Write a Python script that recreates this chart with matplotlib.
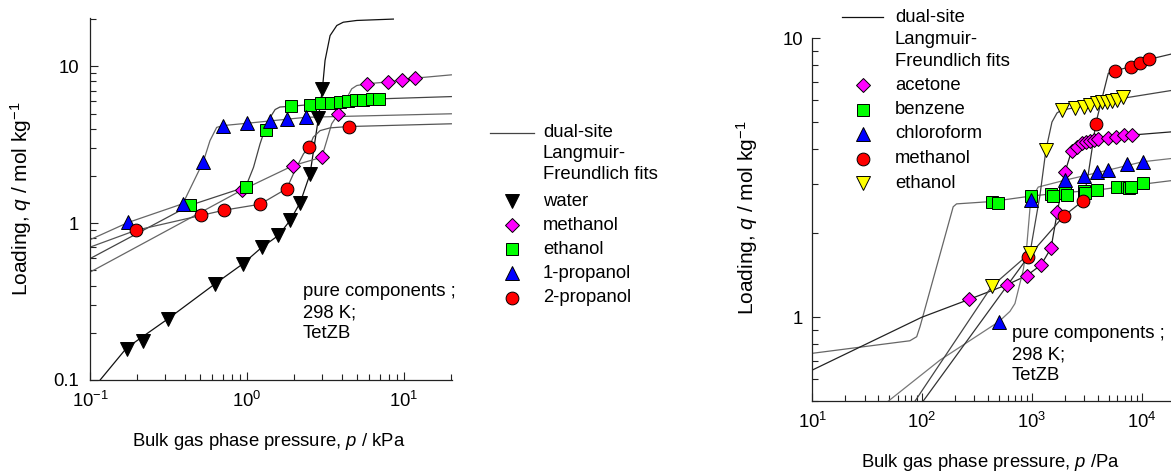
import numpy as np
import matplotlib
matplotlib.use("Agg")
import matplotlib.pyplot as plt
from matplotlib.lines import Line2D
from matplotlib.ticker import NullFormatter

plt.rcParams['font.family'] = ['Liberation Sans', 'DejaVu Sans']
plt.rcParams['mathtext.fontset'] = 'custom'
plt.rcParams['mathtext.rm'] = 'Liberation Sans'
plt.rcParams['mathtext.it'] = 'Liberation Sans:italic'
FS = 13.3
plt.rcParams['font.size'] = FS

# ---------------- left panel: alcohols + water, p in kPa ----------------
water_p = [0.171, 0.219, 0.313, 0.625, 0.94, 1.24, 1.585, 1.88, 2.18, 2.52, 2.85, 3.02]
water_q = [0.158, 0.176, 0.246, 0.411, 0.551, 0.703, 0.835, 1.04, 1.35, 2.06, 4.69, 7.18]
water_fit_p = [0.116, 0.171, 0.313, 0.625, 0.94, 1.24, 1.585, 1.88, 2.18, 2.52, 2.85, 3.02,
               3.14, 3.38, 3.73, 4.1, 5.0, 8.55]
water_fit_q = [0.1, 0.16, 0.245, 0.41, 0.55, 0.70, 0.835, 1.04, 1.35, 2.06, 4.69, 7.18,
               10.9, 15.7, 18.2, 19.1, 19.6, 20.0]

meoh_p = [0.933, 1.97, 2.99, 3.82, 5.78, 7.87, 9.66, 11.7]
meoh_q = [1.63, 2.33, 2.63, 4.98, 7.73, 7.91, 8.23, 8.44]
meoh_fit_p = [0.1, 0.933, 1.97, 2.99, 3.22, 3.46, 3.82, 4.64, 5.0, 5.78, 7.87, 11.7, 20]
meoh_fit_q = [0.487, 1.63, 2.33, 2.63, 3.36, 4.3, 4.98, 7.18, 7.54, 7.73, 7.95, 8.4, 8.82]

etoh_p = [0.434, 0.98, 1.33, 1.9, 2.52, 2.94, 3.43, 3.91, 4.42, 4.94, 5.5, 6.23, 6.96]
etoh_q = [1.30, 1.70, 3.94, 5.56, 5.70, 5.81, 5.81, 5.96, 6.05, 6.11, 6.14, 6.17, 6.2]
etoh_fit_p = [0.1, 0.434, 0.98, 1.1, 1.21, 1.27, 1.33, 1.4, 1.51, 1.62, 1.9, 2.52, 4.42, 6.96, 20]
etoh_fit_q = [0.594, 1.30, 1.70, 2.27, 3.2, 3.7, 3.94, 4.7, 5.3, 5.5, 5.56, 5.70, 6.05, 6.2, 6.41]

prop1_p = [0.175, 0.39, 0.527, 0.706, 0.995, 1.4, 1.79, 2.37]
prop1_q = [1.01, 1.33, 2.47, 4.19, 4.33, 4.51, 4.62, 4.73]
prop1_fit_p = [0.1, 0.175, 0.39, 0.527, 0.581, 0.641, 0.706, 0.995, 2.37, 20]
prop1_fit_q = [0.784, 1.01, 1.33, 2.47, 3.36, 4.08, 4.19, 4.33, 4.73, 4.98]

prop2_p = [0.196, 0.509, 0.715, 1.21, 1.79, 2.49, 4.45]
prop2_q = [0.9, 1.12, 1.21, 1.32, 1.66, 3.05, 4.13]
prop2_fit_p = [0.1, 0.196, 0.509, 0.715, 1.21, 1.79, 2.02, 2.29, 2.49, 2.64, 2.92, 3.38, 4.45, 20]
prop2_fit_q = [0.703, 0.9, 1.12, 1.21, 1.32, 1.66, 2.17, 2.77, 3.05, 3.53, 3.89, 4.05, 4.13, 4.3]

# ---------------- right panel: p in Pa ----------------
acet_p = [269, 597, 897, 1211, 1494, 1703, 2000, 2301, 2558, 2841, 3110, 3380, 3700, 4025,
          4900, 5830, 6950, 8110]
acet_q = [1.16, 1.31, 1.41, 1.54, 1.77, 2.38, 3.31, 3.95, 4.09, 4.2, 4.26, 4.29, 4.32, 4.35,
          4.38, 4.44, 4.5, 4.5]
acet_fit_p = [10, 99, 269, 597, 897, 1211, 1494, 1703, 2000, 2301, 2841, 4025, 8110, 20000]
acet_fit_q = [0.647, 1.0, 1.16, 1.31, 1.41, 1.54, 1.77, 2.38, 3.31, 3.95, 4.2, 4.35, 4.5, 4.63]

benz_p = [430, 494, 981, 1493, 1550, 2004, 2080, 2953, 3070, 3945, 5920, 7300, 7600, 7990, 10200]
benz_q = [2.6, 2.57, 2.72, 2.77, 2.72, 2.80, 2.75, 2.83, 2.79, 2.86, 2.92, 2.94, 2.90, 2.93, 3.04]
benz_fit_p = [10, 77.4, 89.3, 95.7, 192, 206, 430, 981, 2004, 3945, 10200, 20000]
benz_fit_q = [0.743, 0.824, 0.852, 0.925, 2.49, 2.55, 2.6, 2.72, 2.80, 2.86, 3.0, 3.1]

chcl3_p = [501, 975, 2000, 2980, 3940, 4970, 7290, 10200]
chcl3_q = [0.965, 2.63, 3.1, 3.21, 3.31, 3.37, 3.53, 3.61]
chcl3_fit_p = [49, 146, 501, 631, 701, 751, 835, 897, 975, 1143, 2000, 4970, 10200, 20000]
chcl3_fit_q = [0.5, 0.703, 0.965, 1.05, 1.12, 1.25, 1.48, 1.79, 2.63, 2.93, 3.1, 3.37, 3.61, 3.72]

meoh2_p = [927, 1959, 2940, 3811, 5714, 7940, 9640, 11720]
meoh2_q = [1.65, 2.31, 2.62, 4.93, 7.65, 7.91, 8.18, 8.41]
meoh2_fit_p = [102, 927, 1959, 2940, 3270, 3634, 3811, 4470, 4966, 5714, 7940, 11720, 20000]
meoh2_fit_q = [0.5, 1.65, 2.31, 2.62, 3.28, 4.32, 4.93, 6.35, 7.49, 7.65, 7.91, 8.41, 8.84]

etoh2_p = [430, 961, 1343, 1866, 2470, 2985, 3385, 3890, 4320, 4800, 5330, 5920, 6800]
etoh2_q = [1.29, 1.70, 3.98, 5.53, 5.61, 5.69, 5.77, 5.85, 5.9, 5.93, 5.96, 6.01, 6.15]
etoh2_fit_p = [86, 430, 961, 1185, 1343, 1524, 1694, 1866, 3385, 6800, 20000]
etoh2_fit_q = [0.5, 1.29, 1.70, 2.74, 3.98, 5.01, 5.40, 5.53, 5.77, 6.1, 6.53]

W, H = 1171, 471
fig = plt.figure(figsize=(W / 100, H / 100), dpi=100)


def box(x0, y0, x1, y1):
    return [x0 / W, 1 - y1 / H, (x1 - x0) / W, (y1 - y0) / H]


def fx(x):
    return x / W


def fy(y):
    return 1 - y / H


mk = dict(markeredgecolor='black', markeredgewidth=0.7, linestyle='none', zorder=3)
sty = {
    'v': dict(marker='v', markersize=9.5),
    'D': dict(marker='D', markersize=7.6),
    's': dict(marker='s', markersize=8.2),
    '^': dict(marker='^', markersize=9.5),
    'o': dict(marker='o', markersize=9.2),
}
lw = 0.9


def style_axis(ax, ypad):
    ax.set_xscale('log')
    ax.set_yscale('log')
    for s in ('top', 'right'):
        ax.spines[s].set_visible(False)
    for s in ('bottom', 'left'):
        ax.spines[s].set_linewidth(0.9)
        ax.spines[s].set_color('#222222')
    ax.tick_params(which='both', direction='in', top=False, right=False, width=0.8,
                   color='#222222', labelsize=FS)
    ax.tick_params(which='major', length=6)
    ax.tick_params(which='minor', length=4)
    ax.tick_params(axis='x', which='major', pad=7.5)
    ax.tick_params(axis='y', which='major', pad=ypad)
    ax.xaxis.set_minor_formatter(NullFormatter())
    ax.yaxis.set_minor_formatter(NullFormatter())


# left panel
axL = fig.add_axes(box(90, 18.4, 452, 380))
style_axis(axL, 8)
axL.plot(water_fit_p, water_fit_q, color='#111111', lw=lw)
axL.plot(meoh_fit_p, meoh_fit_q, color='#666666', lw=lw)
axL.plot(etoh_fit_p, etoh_fit_q, color='#444444', lw=lw)
axL.plot(prop1_fit_p, prop1_fit_q, color='#666666', lw=lw)
axL.plot(prop2_fit_p, prop2_fit_q, color='#555555', lw=lw)
axL.plot(water_p, water_q, markerfacecolor='black', **sty['v'], **mk)
axL.plot(meoh_p, meoh_q, markerfacecolor='#ff00ff', **sty['D'], **mk)
axL.plot(etoh_p, etoh_q, markerfacecolor='#00ff00', **sty['s'], **mk)
axL.plot(prop1_p, prop1_q, markerfacecolor='#0000ff', **sty['^'], **mk)
axL.plot(prop2_p, prop2_q, markerfacecolor='#ff0000', **sty['o'], **mk)
axL.set_xlim(0.1, 20.2)
axL.set_ylim(0.1, 20.2)
axL.set_yticks([0.1, 1, 10], ['0.1', '1', '10'])
axL.set_xlabel('Bulk gas phase pressure, $p$ / kPa', fontsize=FS)
axL.xaxis.set_label_coords(0.494, -0.141)
axL.set_ylabel('Loading, $q$ / mol kg$^{-1}$', fontsize=15)
axL.yaxis.set_label_coords(-0.155, 0.5)
for i, t in enumerate(['pure components ;', '298 K;', 'TetZB']):
    axL.text(fx(303), fy(292 + 20.5 * i), t, transform=fig.transFigure, fontsize=FS,
             ha='left', va='center')

# right panel (runs off the right-hand edge of the figure)
axR = fig.add_axes(box(812.3, 38.3, 1171, 401.3))
style_axis(axR, 6.5)
axR.plot(benz_fit_p, benz_fit_q, color='#666666', lw=lw)
axR.plot(acet_fit_p, acet_fit_q, color='#222222', lw=lw)
axR.plot(chcl3_fit_p, chcl3_fit_q, color='#777777', lw=lw)
axR.plot(meoh2_fit_p, meoh2_fit_q, color='#333333', lw=lw)
axR.plot(etoh2_fit_p, etoh2_fit_q, color='#444444', lw=lw)
axR.plot(acet_p, acet_q, markerfacecolor='#ff00ff', **sty['D'], **mk)
axR.plot(benz_p, benz_q, markerfacecolor='#00ff00', **sty['s'], **mk)
axR.plot(chcl3_p, chcl3_q, markerfacecolor='#0000ff', **sty['^'], **mk)
axR.plot(meoh2_p, meoh2_q, markerfacecolor='#ff0000', **sty['o'], **mk)
axR.plot(etoh2_p, etoh2_q, markerfacecolor='#ffff00', **sty['v'], **mk)
axR.set_xlim(10, 18500)
axR.set_ylim(0.5, 10)
axR.set_yticks([1, 10], ['1', '10'])
axR.set_xlabel('Bulk gas phase pressure, $p$ /Pa', fontsize=FS)
axR.xaxis.set_label_coords(0.498, -0.14)
axR.set_ylabel('Loading, $q$ / mol kg$^{-1}$', fontsize=15)
axR.yaxis.set_label_coords(-0.146, 0.505)
for i, t in enumerate(['pure components ;', '298 K;', 'TetZB']):
    axR.text(fx(1011.7), fy(334 + 21 * i), t, transform=fig.transFigure, fontsize=FS,
             ha='left', va='center')

# legends drawn in figure pixels
def legend(x_line, x_mark, x_text, y0, gap_fit, y_items, entries, line_color):
    fig.add_artist(Line2D([fx(x_line[0]), fx(x_line[1])], [fy(y0), fy(y0)],
                          transform=fig.transFigure, color=line_color, lw=lw))
    for i, t in enumerate(['dual-site', 'Langmuir-', 'Freundlich fits']):
        fig.text(fx(x_text), fy(y0 + gap_fit * i), t, fontsize=FS, ha='left', va='center')
    for y, (name, m, fc) in zip(y_items, entries):
        fig.add_artist(Line2D([fx(x_mark)], [fy(y)], transform=fig.transFigure,
                              markerfacecolor=fc, **sty[m], **mk))
        fig.text(fx(x_text), fy(y), name, fontsize=FS, ha='left', va='center')


legend((490, 534), 512, 543, 133, 21, [201, 225, 249, 273, 298],
       [('water', 'v', 'black'), ('methanol', 'D', '#ff00ff'), ('ethanol', 's', '#00ff00'),
        ('1-propanol', '^', '#0000ff'), ('2-propanol', 'o', '#ff0000')], '#444444')
legend((842, 883), 863, 895, 17, 22, [85, 110, 134, 159, 183],
       [('acetone', 'D', '#ff00ff'), ('benzene', 's', '#00ff00'), ('chloroform', '^', '#0000ff'),
        ('methanol', 'o', '#ff0000'), ('ethanol', 'v', '#ffff00')], '#111111')

fig.savefig('out.png', dpi=100)
